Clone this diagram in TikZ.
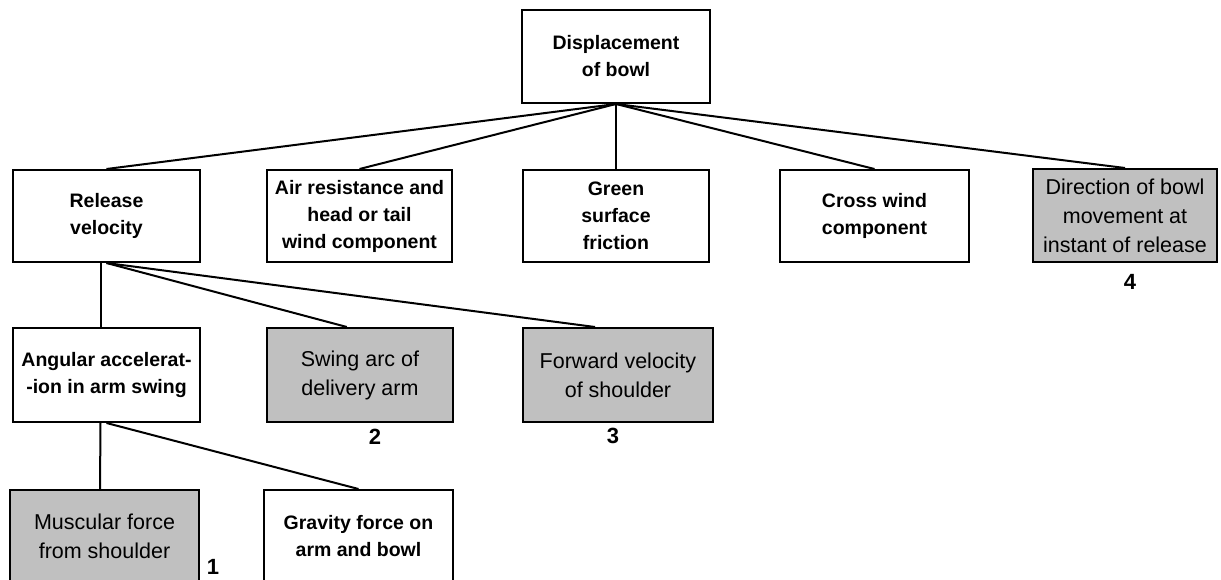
\documentclass[tikz,border=0pt]{standalone}
\usepackage{fontspec}
\setmainfont{Liberation Sans}
\usetikzlibrary{calc}
\definecolor{boxgray}{HTML}{C0C0C0}
\begin{document}
\begin{tikzpicture}[x=1pt,y=-1pt,
  whitebox/.style={draw=black,line width=2pt,fill=white,align=center,inner sep=0pt,
    font=\fontsize{19.5pt}{27pt}\selectfont\bfseries},
  graybox/.style={draw=black,line width=2pt,fill=boxgray,align=center,inner sep=0pt,
    font=\fontsize{21.5pt}{29pt}\selectfont},
  num/.style={font=\fontsize{22pt}{22pt}\selectfont\bfseries,inner sep=0pt},
  link/.style={line width=2pt}]
\useasboundingbox (0,0) rectangle (1221,580);
\begin{scope}
\clip (0,0) rectangle (1221,580);
% top
\node[whitebox,minimum width=188,minimum height=93] (top) at (616,56.5) {Displacement\\of bowl};
% level 2
\node[whitebox,minimum width=187,minimum height=92] (rel) at (106.5,216) {Release\\velocity};
\node[whitebox,minimum width=185,minimum height=92] (air) at (359.5,216) {Air resistance and\\head or tail\\wind component};
\node[whitebox,minimum width=186,minimum height=92] (green) at (616,216) {Green\\surface\\friction};
\node[whitebox,minimum width=189,minimum height=92] (cross) at (874.5,216) {Cross wind\\component};
\node[graybox,minimum width=184,minimum height=93] (dir) at (1125,215.5) {Direction of bowl\\movement at\\instant of release};
% level 3
\node[whitebox,minimum width=187,minimum height=94] (ang) at (106.5,375) {Angular accelerat-\\-ion in arm swing};
\node[graybox,minimum width=186,minimum height=94] (swing) at (360,375) {Swing arc of\\delivery arm};
\node[graybox,minimum width=190,minimum height=94] (fwd) at (618,375) {Forward velocity\\of shoulder};
% level 4
\node[graybox,minimum width=189,minimum height=93] (musc) at (104.5,536.5) {Muscular force\\from shoulder};
\node[whitebox,minimum width=189,minimum height=93] (grav) at (358.5,536.5) {Gravity force on\\arm and bowl};
% numbers
\node[num] (n1) at (213,567) {1};
\node[num] (n2) at (375,437) {2};
\node[num] (n3) at (613,436) {3};
\node[num] (n4) at (1130,282) {4};
% connectors
\draw[link] (top.south) -- (rel.north);
\draw[link] (top.south) -- (air.north);
\draw[link] (top.south) -- (green.north);
\draw[link] (top.south) -- (cross.north);
\draw[link] (top.south) -- (dir.north);
\draw[link] ([xshift=-6pt]rel.south) -- ([xshift=-6pt]ang.north);
\draw[link] (rel.south) -- ($(swing.north west)!0.43!(swing.north east)$);
\draw[link] (rel.south) -- ($(fwd.north west)!0.38!(fwd.north east)$);
\draw[link] ([xshift=-6pt]ang.south) -- ([xshift=-4.5pt]musc.north);
\draw[link] (ang.south) -- (grav.north);
\end{scope}
\end{tikzpicture}
\end{document}
